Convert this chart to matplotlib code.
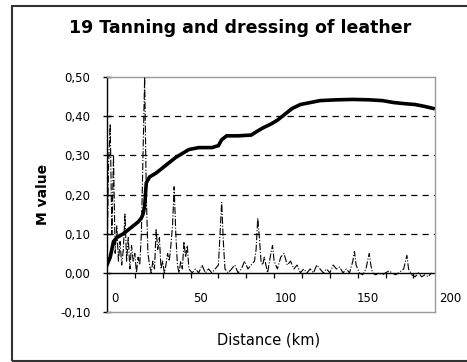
import matplotlib
matplotlib.use("Agg")
import matplotlib.pyplot as plt
import matplotlib.patches as patches
import matplotlib.transforms as mtransforms

plt.rcParams['font.family'] = ['DejaVu Sans']

# cumulative M value (thick line)
cum_km = [0, 2, 4, 6, 10, 13, 16, 19, 21, 22, 23, 24, 26, 30, 33, 36, 39, 42, 46,
          50, 56, 64, 68, 70, 73, 80, 88, 91, 95, 100, 104, 107, 110, 113, 118,
          124, 130, 140, 150, 160, 168, 175, 182, 188, 194, 199]
cum_m = [0.02, 0.04, 0.08, 0.09, 0.10, 0.11, 0.12, 0.13, 0.14, 0.15, 0.17, 0.23,
         0.245, 0.255, 0.265, 0.275, 0.285, 0.295, 0.305, 0.315, 0.32, 0.32,
         0.325, 0.34, 0.35, 0.35, 0.352, 0.36, 0.37, 0.38, 0.39, 0.40, 0.41,
         0.42, 0.43, 0.435, 0.44, 0.442, 0.443, 0.442, 0.44, 0.435, 0.432,
         0.43, 0.425, 0.42]

# M value per distance band (thin dash-dot line)
band_km = list(range(0, 51)) + [52, 54, 56, 58, 60, 62, 64, 66, 68, 69, 70, 71,
           72, 74, 76, 78, 80, 82, 84, 86, 88, 90, 91, 92, 93, 94, 95, 96, 98,
           100, 101, 102, 104, 106, 108, 110, 112, 114, 116, 118, 120, 122, 124,
           126, 128, 130, 132, 134, 136, 138, 140, 142, 144, 146, 148, 150, 151,
           152, 154, 156, 158, 160, 161, 162, 164, 166, 168, 170, 172, 174, 176,
           178, 181, 183, 184, 186, 188, 190, 192, 194, 196, 198]
band_m = [0.02, 0.28, 0.38, 0.10, 0.30, 0.05, 0.12, 0.03, 0.08, 0.02, 0.06, 0.15,
          0.03, 0.09, 0.01, 0.07, 0.03, 0.05, 0.0, 0.04, 0.02, 0.10, 0.30, 0.50,
          0.20, 0.05, 0.02, 0.0, 0.03, 0.01, 0.11, 0.06, 0.09, 0.01, 0.03, 0.0,
          0.02, 0.05, 0.03, 0.07, 0.12, 0.22, 0.10, 0.02, 0.0, 0.03, 0.01, 0.08,
          0.04, 0.07, 0.01,
          0.0, 0.01, 0.0, 0.02, 0.0, 0.01, 0.0, 0.01, 0.02, 0.10, 0.18, 0.08,
          0.01, 0.0, 0.01, 0.02, 0.0, 0.01, 0.03, 0.01, 0.02, 0.03, 0.06, 0.14,
          0.09, 0.03, 0.02, 0.04, 0.0, 0.05, 0.07, 0.03, 0.01, 0.04, 0.05, 0.02,
          0.03, 0.01, 0.02, 0.0, 0.01, 0.0, 0.01, 0.0, 0.02, 0.01, 0.0, 0.01,
          0.0, 0.02, 0.01, 0.015, 0.0, 0.01, 0.0, 0.03, 0.055, 0.02, 0.0, -0.005,
          0.01, 0.05, 0.02, 0.0, -0.005, 0.0, -0.005, 0.0, 0.005, 0.0, -0.005,
          0.0, 0.01, 0.045, 0.01, -0.005, -0.01, 0.0, -0.01, -0.005, -0.01, 0.0]

x_ticks = [0, 50, 100, 150, 200]
y_ticks = [-0.1, 0.0, 0.1, 0.2, 0.3, 0.4, 0.5]
y_labels = ['-0,10', '0,00', '0,10', '0,20', '0,30', '0,40', '0,50']
axis_marks = list(range(17, 200, 17))

fig = plt.figure(figsize=(4.67, 3.62), dpi=100)
ax = fig.add_axes([0.229, 0.138, 0.702, 0.649])

# outer chart frame
fig.patches.append(patches.Rectangle((0.0257, 0.0035), 1.2, 0.98,
                                     transform=fig.transFigure, fill=False,
                                     edgecolor='#333333', linewidth=1.5))

for y in [0.1, 0.2, 0.3, 0.4]:
    ax.axhline(y, color='black', linestyle=(0, (5, 4)), linewidth=0.9, zorder=1)
ax.axhline(0, color='black', linewidth=1.0, zorder=2)
ax.vlines(axis_marks, -0.012, 0, color='black', linewidth=0.9, zorder=2)

ax.plot(band_km, band_m, color='black', linestyle='-.', linewidth=0.8, zorder=3)
ax.plot(cum_km, cum_m, color='black', linewidth=2.6, zorder=4,
        solid_joinstyle='miter')

ax.set_xlim(0, 200)
ax.set_ylim(-0.1, 0.5)
ax.set_xticks([])
ax.set_yticks(y_ticks)
ax.set_yticklabels(y_labels, fontsize=8.5)
ax.tick_params(axis='y', direction='inout', length=6, width=1, pad=9)

for side in ['top', 'right', 'bottom']:
    ax.spines[side].set_color('#9a9a9a')
    ax.spines[side].set_linewidth(1)
ax.spines['left'].set_color('black')
ax.spines['left'].set_linewidth(1)

# category labels sit just above the bottom of the plot area
offset = mtransforms.ScaledTranslation(3 / 72, 0, fig.dpi_scale_trans)
for xv in x_ticks:
    ax.text(xv, -0.065, str(xv), fontsize=8.5, ha='left', va='center',
            transform=ax.transData + offset, clip_on=False)

ax.set_ylabel('M value', fontsize=10, fontweight='bold', labelpad=7)
fig.text(0.575, 0.061, 'Distance (km)', fontsize=10.5, ha='center', va='center')
fig.text(0.514, 0.923, '19 Tanning and dressing of leather', fontsize=12.5,
         fontweight='bold', ha='center', va='center')

fig.savefig('out.png', dpi=100)
